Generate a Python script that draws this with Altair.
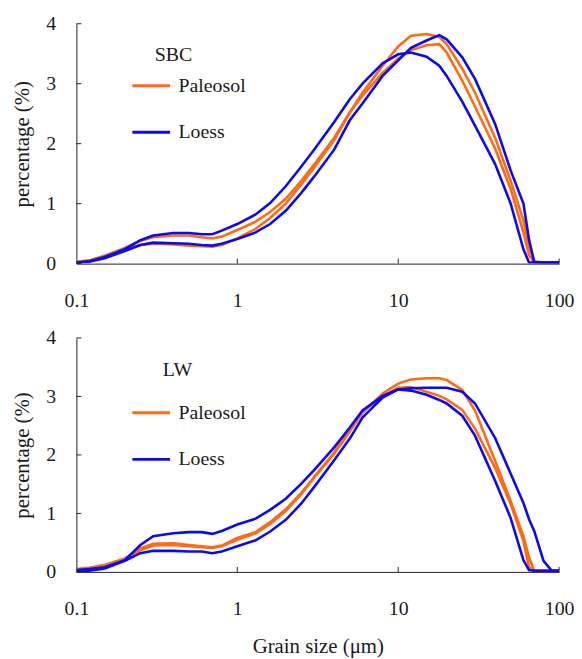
import altair as alt
import pandas as pd

FONT = "Liberation Serif"

sizes = [0.1, 0.12, 0.15, 0.2, 0.25, 0.3, 0.4, 0.5, 0.6, 0.7, 0.8, 1, 1.3, 1.6, 2, 2.5, 3,
         4, 5, 6, 8, 10, 12, 15, 18, 20, 25, 30, 40, 50, 60, 65, 70, 80, 90, 100]

# SBC section
sbc_paleosol_1 = [0.03, 0.05, 0.13, 0.24, 0.31, 0.33, 0.32, 0.30, 0.29, 0.28, 0.31, 0.42, 0.58, 0.76, 1.00, 1.32, 1.60,
                  2.06, 2.52, 2.85, 3.30, 3.62, 3.80, 3.83, 3.78, 3.66, 3.25, 2.85, 2.10, 1.38, 0.72, 0.28, 0.03, 0.02, 0.02, 0.02]
sbc_paleosol_2 = [0.03, 0.05, 0.13, 0.26, 0.38, 0.44, 0.47, 0.47, 0.44, 0.42, 0.45, 0.56, 0.70, 0.86, 1.08, 1.38, 1.65,
                  2.10, 2.52, 2.80, 3.18, 3.42, 3.56, 3.64, 3.66, 3.52, 3.05, 2.62, 1.92, 1.24, 0.52, 0.14, 0.02, 0.02, 0.02, 0.02]
sbc_loess_1 = [0.02, 0.04, 0.11, 0.24, 0.39, 0.47, 0.51, 0.51, 0.49, 0.49, 0.55, 0.66, 0.82, 1.01, 1.29, 1.62, 1.90,
               2.36, 2.74, 3.00, 3.34, 3.49, 3.52, 3.45, 3.30, 3.13, 2.70, 2.30, 1.66, 1.00, 0.24, 0.02, 0.02, 0.02, 0.02, 0.02]
sbc_loess_2 = [0.02, 0.03, 0.09, 0.21, 0.31, 0.35, 0.34, 0.33, 0.31, 0.30, 0.33, 0.41, 0.52, 0.66, 0.88, 1.18, 1.45,
               1.90, 2.39, 2.67, 3.13, 3.39, 3.60, 3.72, 3.81, 3.74, 3.44, 3.08, 2.33, 1.55, 1.00, 0.40, 0.03, 0.02, 0.02, 0.02]

# LW section
lw_paleosol_1 = [0.05, 0.07, 0.12, 0.23, 0.40, 0.48, 0.49, 0.46, 0.44, 0.42, 0.45, 0.58, 0.68, 0.85, 1.07, 1.35, 1.61,
                 2.02, 2.40, 2.72, 3.05, 3.22, 3.29, 3.31, 3.31, 3.28, 3.11, 2.76, 1.90, 1.21, 0.61, 0.25, 0.03, 0.02, 0.02, 0.02]
lw_paleosol_2 = [0.04, 0.06, 0.11, 0.22, 0.37, 0.45, 0.46, 0.44, 0.42, 0.41, 0.44, 0.55, 0.66, 0.82, 1.04, 1.33, 1.62,
                 2.04, 2.44, 2.74, 3.00, 3.15, 3.16, 3.08, 3.01, 2.95, 2.77, 2.45, 1.78, 1.16, 0.53, 0.08, 0.03, 0.02, 0.02, 0.02]
lw_loess_1 = [0.03, 0.05, 0.08, 0.20, 0.46, 0.61, 0.66, 0.68, 0.68, 0.65, 0.70, 0.81, 0.91, 1.06, 1.25, 1.51, 1.74,
              2.13, 2.47, 2.76, 3.01, 3.12, 3.10, 3.03, 2.94, 2.88, 2.67, 2.33, 1.56, 0.92, 0.20, 0.03, 0.02, 0.02, 0.02, 0.02]
lw_loess_2 = [0.02, 0.02, 0.06, 0.19, 0.32, 0.36, 0.36, 0.35, 0.35, 0.32, 0.35, 0.44, 0.54, 0.69, 0.89, 1.17, 1.45,
              1.91, 2.28, 2.64, 2.98, 3.12, 3.14, 3.15, 3.15, 3.15, 3.08, 2.88, 2.29, 1.68, 1.18, 0.90, 0.70, 0.19, 0.02, 0.02]

kinds = ["Paleosol", "Loess"]
colors = ["#FF6A12", "#0A0AF2"]
x_ticks = [0.1, 1, 10, 100]
y_ticks = [0, 1, 2, 3, 4]

W = 487


def panel(name, series, height, xtitle, legend_y, label_x, label_y):
    rows = []
    for sample, kind, vals in series:
        for s, v in zip(sizes, vals):
            rows.append({"size": s, "pct": v, "sample": sample, "kind": kind})
    df = pd.DataFrame(rows)

    xaxis = dict(values=x_ticks, format="~g", labelPadding=27, ticks=False, tickSize=0,
                 labelFlush=False, labelFont=FONT)
    if xtitle:
        xaxis["title"] = xtitle
        xaxis["titlePadding"] = 17
    else:
        xaxis["title"] = None

    x = alt.X("size:Q", scale=alt.Scale(type="log", domain=[0.1, 100]), axis=alt.Axis(**xaxis))
    y = alt.Y("pct:Q", scale=alt.Scale(domain=[0, 4]),
              axis=alt.Axis(values=y_ticks, format="d", title="percentage (%)", ticks=False, tickSize=0,
                            labelPadding=21, labelAlign="right", titlePadding=13, titleFontSize=21,
                            labelFont=FONT))

    lines = alt.Chart(df).mark_line(strokeWidth=2.6, clip=True).encode(
        x=x, y=y,
        color=alt.Color("kind:N", scale=alt.Scale(domain=kinds, range=colors),
                        legend=alt.Legend(title=None, orient="none", legendX=55, legendY=legend_y,
                                          symbolType="stroke", symbolSize=1444, symbolStrokeWidth=3,
                                          labelFontSize=20, labelFont=FONT, labelOffset=7,
                                          rowPadding=16, padding=0, labelColor="#1a1a1a")),
        detail="sample:N",
    )
    xt = alt.Chart(pd.DataFrame({"t": x_ticks[1:]})).mark_rule(color="#222", strokeWidth=1).encode(
        x=alt.X("t:Q"), y=alt.value(height), y2=alt.value(height - 5))
    yt = alt.Chart(pd.DataFrame({"t": y_ticks})).mark_rule(color="#222", strokeWidth=1).encode(
        y=alt.Y("t:Q"), x=alt.value(0), x2=alt.value(5))
    lab = alt.Chart(pd.DataFrame({"label": [name]})).mark_text(
        font=FONT, fontSize=20, color="#1a1a1a", align="center", baseline="middle").encode(
        text="label:N", x=alt.value(label_x), y=alt.value(label_y))
    return alt.layer(lines, xt, yt, lab).properties(width=W, height=height)


top = panel("SBC", [("s1", "Paleosol", sbc_paleosol_1), ("s2", "Paleosol", sbc_paleosol_2),
                    ("s3", "Loess", sbc_loess_1), ("s4", "Loess", sbc_loess_2)],
            242, None, 42, 98, 32)
bottom = panel("LW", [("s1", "Paleosol", lw_paleosol_1), ("s2", "Paleosol", lw_paleosol_2),
                      ("s3", "Loess", lw_loess_1), ("s4", "Loess", lw_loess_2)],
               236, "Grain size (\u03bcm)", 55, 102, 32)

chart = alt.vconcat(top, bottom, spacing=18).resolve_scale(color="independent").properties(
    padding={"left": 4, "top": 3, "right": 0, "bottom": 0}
).configure(font=FONT).configure_view(stroke=None).configure_axis(
    labelFont=FONT, titleFont=FONT, labelFontSize=20, titleFontSize=21,
    labelColor="#1a1a1a", titleColor="#1a1a1a", domainColor="#222", domainWidth=1,
    grid=False, titleFontWeight="normal"
).configure_legend(labelFont=FONT)

chart.save("out.html", embed_options={"renderer": "svg", "actions": False})
